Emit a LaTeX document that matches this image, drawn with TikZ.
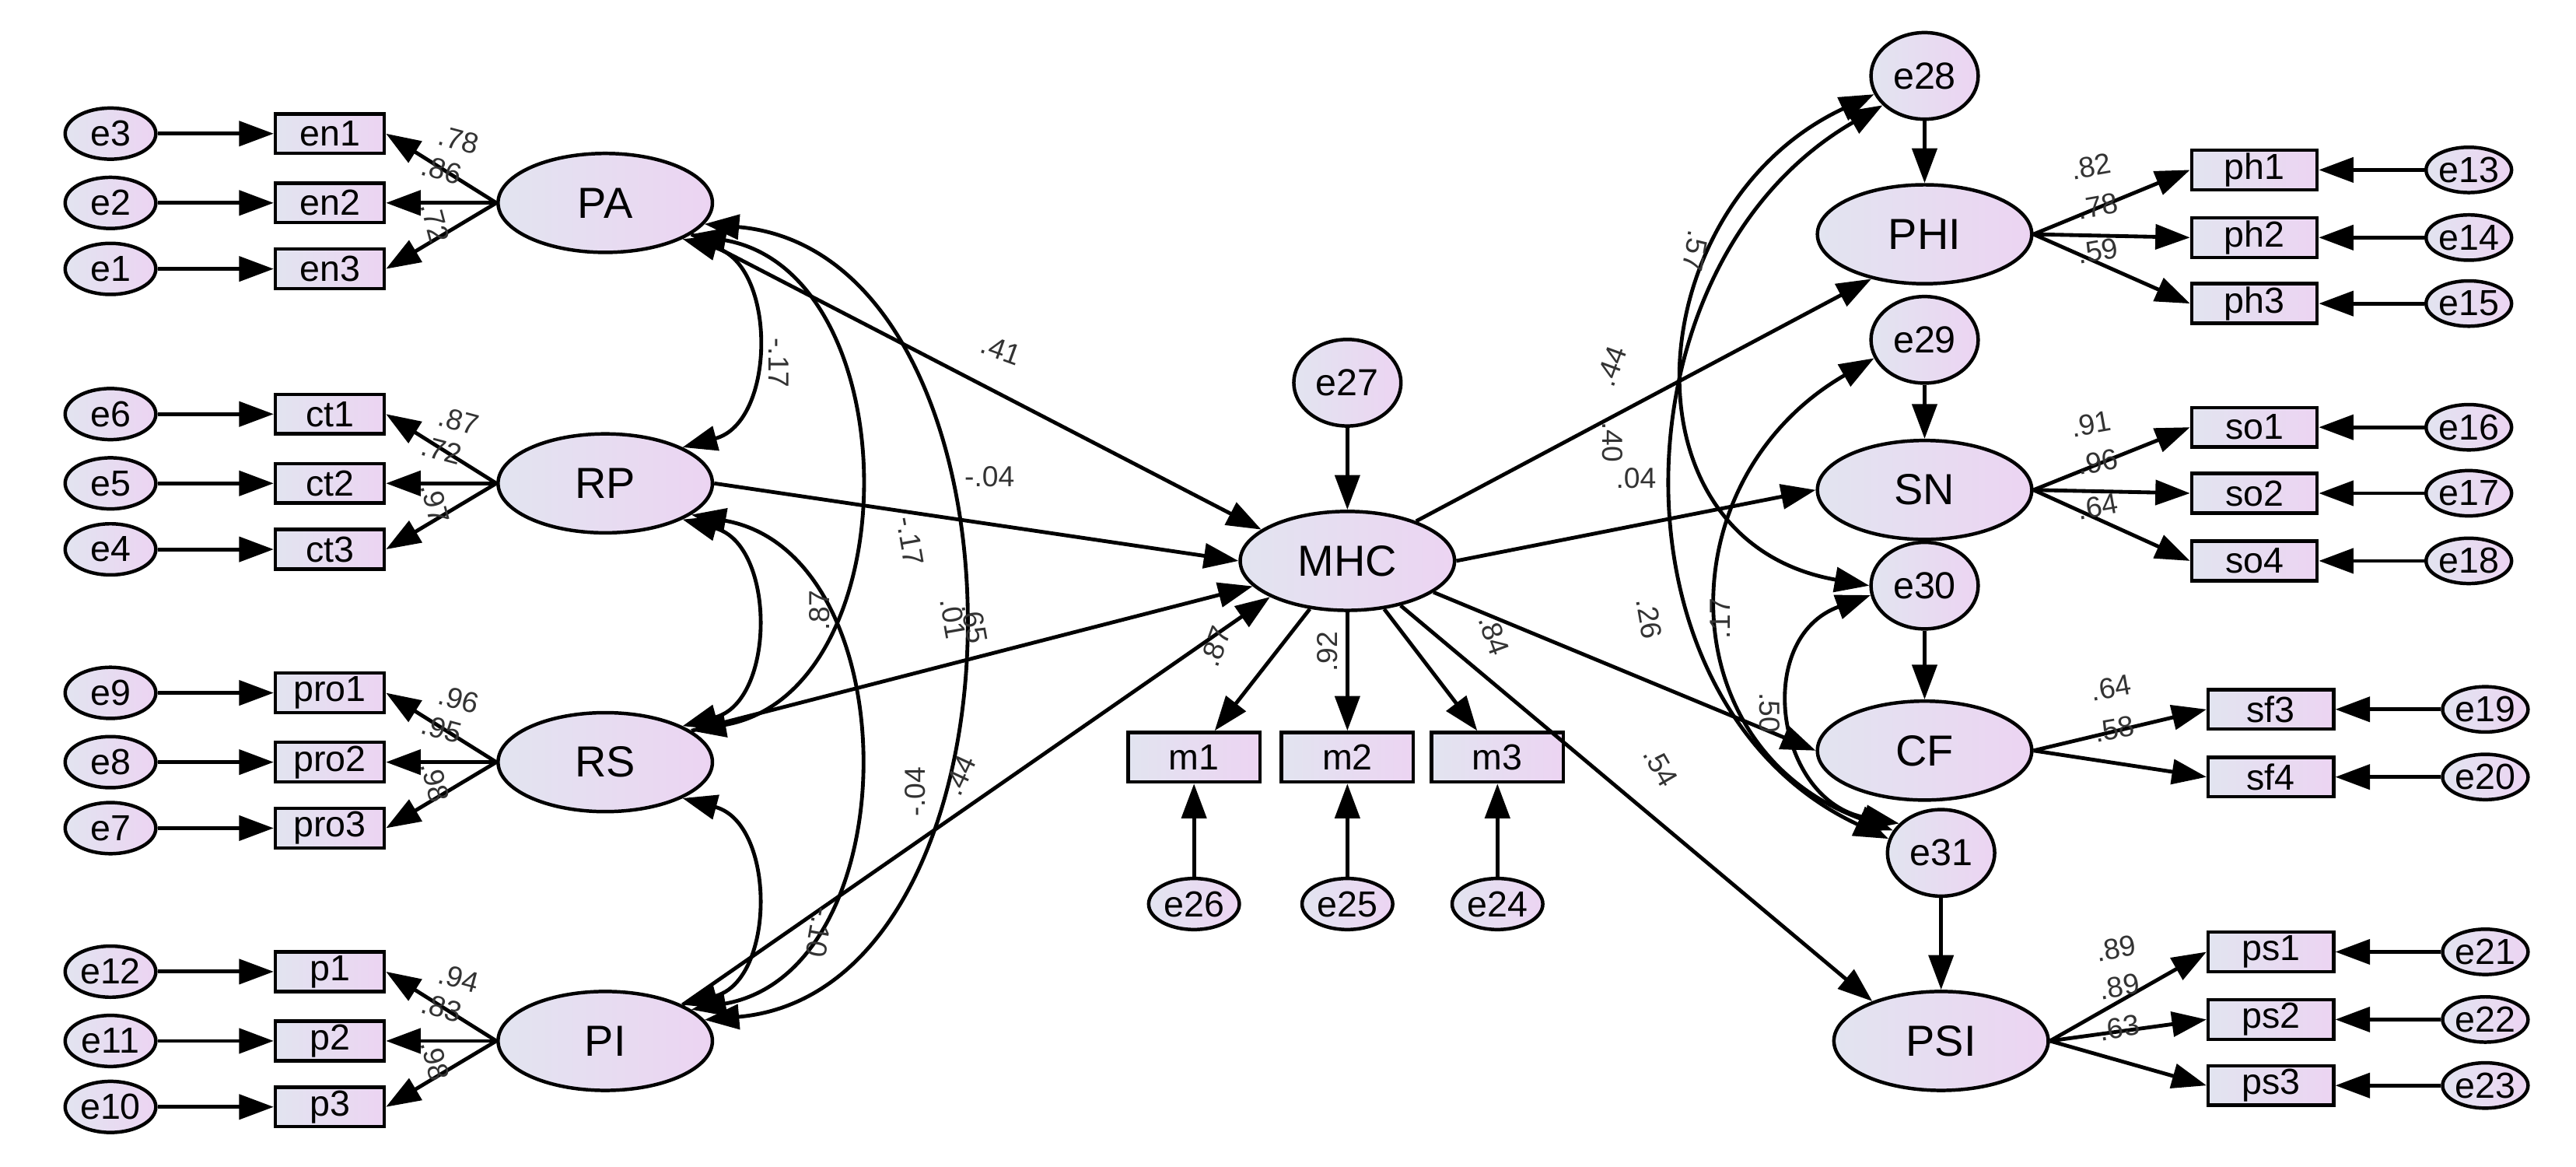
\documentclass[tikz,border=0pt]{standalone}
\usepackage{fontspec}
\setmainfont{Liberation Sans}
\usetikzlibrary{arrows.meta,shapes.geometric}
\definecolor{lavL}{RGB}{226,228,240}
\definecolor{lavR}{RGB}{236,212,242}
\begin{document}
\begin{tikzpicture}[x=0.02cm,y=-0.02cm,
 lat/.style={ellipse,draw,line width=1.2pt,left color=lavL,right color=lavR,minimum width=2.6cm,minimum height=1.2cm,inner sep=0,font=\fontsize{15}{15}\selectfont},
 err/.style={ellipse,draw,line width=1.2pt,left color=lavL,right color=lavR,minimum width=1.1cm,minimum height=0.62cm,inner sep=0,font=\fontsize{12.5}{12}\selectfont},
 errb/.style={ellipse,draw,line width=1.2pt,left color=lavL,right color=lavR,minimum width=1.3cm,minimum height=1.05cm,inner sep=0,font=\fontsize{13}{12}\selectfont},
 box/.style={rectangle,draw,line width=1.2pt,left color=lavL,right color=lavR,minimum width=1.32cm,minimum height=0.48cm,inner sep=0,font=\fontsize{12.5}{12}\selectfont},
 mbox/.style={box,minimum width=1.6cm,minimum height=0.6cm},
 ar/.style={line width=1.3pt,-{Triangle[length=0.42cm,width=0.3cm]}},
 dar/.style={line width=1.3pt,{Triangle[length=0.42cm,width=0.3cm]}-{Triangle[length=0.42cm,width=0.3cm]}},
 lb/.style={font=\fontsize{10}{10}\selectfont,text=black!80,inner sep=0}]
\useasboundingbox (0,0) rectangle (1562,707);
% left latent blocks
\foreach \L/\y/\a/\b/\c/\ea/\eb/\ec/\la/\lb/\lc in {PA/123/en1/en2/en3/e3/e2/e1/.78/.86/.72, RP/293/ct1/ct2/ct3/e6/e5/e4/.87/.72/.97, RS/462/pro1/pro2/pro3/e9/e8/e7/.96/.95/.98, PI/631/p1/p2/p3/e12/e11/e10/.94/.83/.98}{
 \node[lat] (\L) at (367,\y) {\L};
 \node[box] (\a) at (200,\y-42) {\a};
 \node[box] (\b) at (200,\y) {\b};
 \node[box] (\c) at (200,\y+40) {\c};
 \node[err] (\ea) at (67,\y-42) {\ea};
 \node[err] (\eb) at (67,\y) {\eb};
 \node[err] (\ec) at (67,\y+40) {\ec};
 \draw[ar] (\ea) -- (\a); \draw[ar] (\eb) -- (\b); \draw[ar] (\ec) -- (\c);
 \draw[ar] (\L.west) -- (\a.east); \draw[ar] (\L.west) -- (\b.east); \draw[ar] (\L.west) -- (\c.east);
 \node[lb,rotate=-15] at (278,\y-38) {\la};
 \node[lb,rotate=-15] at (268,\y-20) {\lb};
 \node[lb,rotate=-75] at (264,\y+12) {\lc};
}
% MHC
\node[lat] (MHC) at (817,340) {MHC};
\node[errb] (e27) at (817,232) {e27};
\draw[ar] (e27) -- (MHC);
\foreach \m/\x/\e in {m1/724/e26,m2/817/e25,m3/908/e24}{
 \node[mbox] (\m) at (\x,459) {\m};
 \node[err] (\e) at (\x,548) {\e};
 \draw[ar] (\e) -- (\m);
}
\draw[ar] (MHC) -- (m1); \draw[ar] (MHC) -- (m2); \draw[ar] (MHC) -- (m3);
\draw[ar] (PA.-20) -- (MHC.160);
\draw[ar] (RP.east) -- (MHC.180);
\draw[ar] (RS.20) -- (MHC.195);
\draw[ar] (PI.25) -- (MHC.205);
% left covariances
\draw[dar] (PA.-25) to[out=-15,in=15,looseness=1.2] (RP.25);
\draw[dar] (PA.-20) to[out=-10,in=10,looseness=1.15] (RS.20);
\draw[dar] (PA.-12) to[out=-5,in=5,looseness=1.1] (PI.12);
\draw[dar] (RP.-25) to[out=-15,in=15,looseness=1.2] (RS.25);
\draw[dar] (RP.-20) to[out=-10,in=10,looseness=1.15] (PI.20);
\draw[dar] (RS.-25) to[out=-15,in=15,looseness=1.2] (PI.25);
% right structure
\foreach \L/\x/\y in {PHI/1167/142, SN/1167/297, CF/1167/455, PSI/1177/631}{
 \node[lat] (\L) at (\x,\y) {\L};
}
\node[errb] (e28) at (1167,46) {e28};
\node[errb] (e29) at (1167,206) {e29};
\node[errb] (e30) at (1167,355) {e30};
\node[errb] (e31) at (1177,517) {e31};
\draw[ar] (e28) -- (PHI); \draw[ar] (e29) -- (SN); \draw[ar] (e30) -- (CF); \draw[ar] (e31) -- (PSI);
\draw[ar] (MHC.30) -- (PHI.220);
\draw[ar] (MHC.east) -- (SN.west);
\draw[ar] (MHC.-20) -- (CF.west);
\draw[ar] (MHC.-40) -- (PSI.150);
\foreach \L/\x/\y/\bx/\e in {PHI/1367/103/ph1/e13, PHI/1367/144/ph2/e14, PHI/1367/184/ph3/e15, SN/1367/259/so1/e16, SN/1367/299/so2/e17, SN/1367/340/so4/e18, CF/1377/430/sf3/e19, CF/1377/471/sf4/e20, PSI/1377/577/ps1/e21, PSI/1377/618/ps2/e22, PSI/1377/658/ps3/e23}{
 \node[box,minimum width=1.52cm] (\bx) at (\x,\y) {\bx};
 \node[err,minimum width=1.0cm,minimum height=0.55cm] (\e) at (\x+130,\y) {\e};
 \draw[ar] (\e) -- (\bx);
 \draw[ar] (\L.east) -- (\bx.west);
}
\node[lb,rotate=10] at (1268,101) {.82};
\node[lb,rotate=10] at (1272,125) {.78};
\node[lb,rotate=10] at (1272,152) {.59};
\node[lb,rotate=10] at (1268,257) {.91};
\node[lb,rotate=10] at (1272,280) {.96};
\node[lb,rotate=10] at (1272,307) {.64};
\node[lb,rotate=10] at (1280,417) {.64};
\node[lb,rotate=10] at (1282,442) {.58};
\node[lb,rotate=10] at (1283,575) {.89};
\node[lb,rotate=10] at (1285,598) {.89};
\node[lb,rotate=10] at (1285,623) {.63};
% right covariances
\draw[dar] (e28.200) to[out=205,in=170,looseness=1.35] (e30.180);
\draw[dar] (e28.215) to[out=210,in=155,looseness=1.1] (e31.165);
\draw[dar] (e29.200) to[out=210,in=160,looseness=1.3] (e31.155);
\draw[dar] (e30.190) to[out=200,in=170,looseness=1.4] (e31.145);
% path labels
\node[lb,rotate=-20] at (607,212) {.41};
\node[lb] at (600,289) {-.04};
\node[lb,rotate=-80] at (578,375) {.01};
\node[lb,rotate=-80] at (591,378) {.65};
\node[lb,rotate=-90] at (472,220) {-.17};
\node[lb,rotate=-80] at (552,328) {-.17};
\node[lb,rotate=90] at (497,370) {.87};
\node[lb,rotate=90] at (555,480) {-.04};
\node[lb,rotate=65] at (582,470) {.44};
\node[lb,rotate=-100] at (497,565) {-.10};
\node[lb,rotate=70] at (737,392) {.87};
\node[lb,rotate=90] at (805,395) {.92};
\node[lb,rotate=-70] at (906,385) {.84};
\node[lb,rotate=70] at (977,222) {.44};
\node[lb,rotate=-90] at (978,268) {.40};
\node[lb] at (992,290) {.04};
\node[lb,rotate=-100] at (1028,152) {.57};
\node[lb,rotate=-80] at (1000,375) {.26};
\node[lb,rotate=90] at (1043,375) {.17};
\node[lb,rotate=-90] at (1073,432) {.50};
\node[lb,rotate=-60] at (1007,465) {.54};
\end{tikzpicture}
\end{document}
